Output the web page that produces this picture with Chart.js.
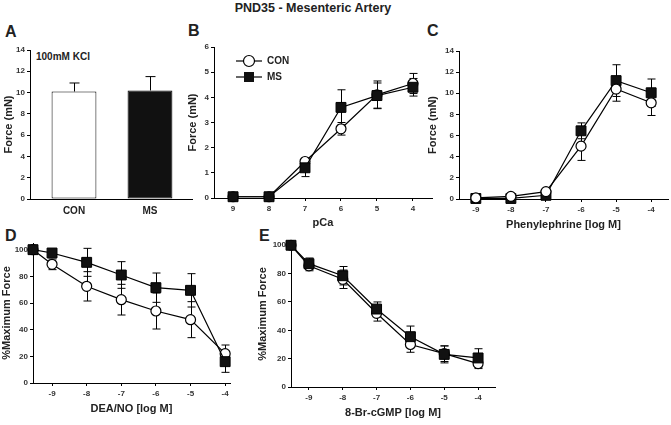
<!DOCTYPE html>
<html>
<head>
<meta charset="utf-8">
<script src="https://cdn.jsdelivr.net/npm/chart.js@4"></script>
<style>
  html, body { margin: 0; padding: 0; background: #fff; overflow: hidden; }
  body { width: 671px; height: 425px; position: relative; font-family: "Liberation Sans", Arial, sans-serif; }
  canvas { position: absolute; }
  .lbl { position: absolute; font-weight: bold; color: #222; line-height: 1; white-space: nowrap; }
  .letter { font-size: 16px; }
</style>
</head>
<body>
<div class="lbl" style="left:213px; top:2px; width:200px; text-align:center; font-size:12.5px">PND35 - Mesenteric Artery</div>
<div class="lbl letter" style="left:5px; top:24px">A</div>
<div class="lbl letter" style="left:188px; top:23px">B</div>
<div class="lbl letter" style="left:427px; top:23px">C</div>
<div class="lbl letter" style="left:5px; top:228px">D</div>
<div class="lbl letter" style="left:259px; top:228px">E</div>
<div class="lbl" style="left:36px; top:52px; font-size:10px">100mM KCl</div>

<canvas id="cA" width="200" height="177" style="left:0px; top:42px"></canvas>
<canvas id="cB" width="256" height="193" style="left:184px; top:39px"></canvas>
<canvas id="cC" width="252" height="191" style="left:424px; top:43px"></canvas>
<canvas id="cD" width="238" height="183" style="left:0px; top:235px"></canvas>
<canvas id="cE" width="249" height="189" style="left:254px; top:233px"></canvas>

<script>
// A - 100mM KCl
const kclGroups = ['CON', 'MS'];
const kclMean = [10.1, 10.2];
const kclErr = [0.8, 1.3];

// B - pCa
const pcaX = [9, 8, 7, 6, 5, 4];
const pcaCon = [0.05, 0.05, 1.45, 2.75, 4.1, 4.55];
const pcaConErr = [0.05, 0.05, 0.1, 0.25, 0.55, 0.4];
const pcaMs = [0.05, 0.05, 1.2, 3.6, 4.07, 4.4];
const pcaMsErr = [0.05, 0.05, 0.35, 0.7, 0.5, 0.35];

// C - phenylephrine
const peX = [-9, -8, -7, -6, -5, -4];
const peCon = [0.1, 0.25, 0.7, 5.0, 10.4, 9.1];
const peConErr = [0.05, 0.1, 0.25, 1.35, 1.15, 1.2];
const peMs = [0.05, 0.05, 0.35, 6.45, 11.2, 10.05];
const peMsErr = [0.05, 0.05, 0.15, 0.75, 1.5, 1.3];

// D - DEA/NO (first point is the 100% baseline)
const deaX = [-9.55, -9, -8, -7, -6, -5, -4];
const deaCon = [100, 89, 72.5, 62.5, 54, 47.5, 22];
const deaConErr = [0, 4, 11, 11.5, 13.5, 13.5, 6.5];
const deaMs = [100, 97.5, 90.5, 81, 71.5, 69.5, 16];
const deaMsErr = [0, 2.5, 10.5, 10, 11, 12.5, 8];

// E - 8-Br-cGMP
const cgX = [-9.53, -9, -8, -7, -6, -5, -4];
const cgCon = [100, 85.5, 76, 52, 30, 23.5, 16.5];
const cgConErr = [0, 3.5, 6.5, 5.5, 5.5, 5.5, 3.5];
const cgMs = [100, 87, 78.5, 55, 35.5, 23, 20.5];
const cgMsErr = [0, 4, 6.5, 5, 7.5, 6, 6.5];

const logTicks = [-9, -8, -7, -6, -5, -4];

Chart.defaults.font.family = '"Liberation Sans", Arial, sans-serif';
Chart.defaults.font.weight = 'bold';
Chart.defaults.color = '#333';
Chart.defaults.animation = false;
Chart.defaults.plugins.legend.display = false;
Chart.defaults.plugins.tooltip.enabled = false;

function pts(xs, ys) {
    return xs.map((x, i) => ({ x: x, y: ys[i] }));
}

function drawErrors(chart) {
    const ctx = chart.ctx;
    const yScale = chart.scales.y;
    ctx.save();
    ctx.strokeStyle = '#000';
    ctx.lineWidth = 1;
    chart.data.datasets.forEach((ds, di) => {
        if (!ds.err) return;
        const meta = chart.getDatasetMeta(di);
        meta.data.forEach((el, i) => {
            const v = ds.data[i].y, e = ds.err[i];
            if (!e) return;
            const x = Math.round(el.x) + 0.5;
            const yHi = yScale.getPixelForValue(v + e);
            const yLo = yScale.getPixelForValue(ds.upOnly ? v : v - e);
            const cap = ds.capWidth || 8;
            ctx.beginPath();
            ctx.moveTo(x, yLo);
            ctx.lineTo(x, yHi);
            ctx.moveTo(x - cap / 2, yHi);
            ctx.lineTo(x + cap / 2, yHi);
            if (!ds.upOnly) {
                ctx.moveTo(x - cap / 2, yLo);
                ctx.lineTo(x + cap / 2, yLo);
            }
            ctx.stroke();
        });
    });
    ctx.restore();
}

const errorBars = {
    id: 'errorBars',
    beforeDatasetsDraw(chart) {
        if (chart.config.type !== 'bar') drawErrors(chart);
    },
    afterDatasetsDraw(chart) {
        if (chart.config.type === 'bar') drawErrors(chart);
    }
};
Chart.register(errorBars);

//legend drawn inside panel B, line through the marker like the original
const legendB = {
    id: 'legendB',
    afterDraw(chart) {
        const ctx = chart.ctx;
        const area = chart.chartArea;
        const rows = [
            { label: 'CON', circle: true, dy: 14 },
            { label: 'MS', circle: false, dy: 30 }
        ];
        ctx.save();
        rows.forEach(r => {
            const y = area.top + r.dy;
            const x0 = area.left + 22, x1 = area.left + 48, xm = area.left + 35;
            ctx.strokeStyle = '#000';
            ctx.lineWidth = 1.2;
            ctx.beginPath();
            ctx.moveTo(x0, y);
            ctx.lineTo(x1, y);
            ctx.stroke();
            if (r.circle) {
                ctx.fillStyle = '#fff';
                ctx.beginPath();
                ctx.arc(xm, y, 5.5, 0, Math.PI * 2);
                ctx.fill();
                ctx.stroke();
            } else {
                ctx.fillStyle = '#111';
                ctx.fillRect(xm - 5, y - 5, 10, 10);
            }
            ctx.fillStyle = '#222';
            ctx.font = 'bold 10px "Liberation Sans", Arial, sans-serif';
            ctx.textBaseline = 'middle';
            ctx.fillText(r.label, area.left + 53, y + 0.5);
        });
        ctx.restore();
    }
};

const gridStyle = { display: true, drawOnChartArea: false, drawTicks: true, tickLength: 3, color: '#000', lineWidth: 1 };
const borderStyle = { display: true, color: '#000', width: 1 };
const tickFont = { size: 8, weight: 'bold' };
const titleFont = { size: 11, weight: 'bold' };

function yAxis(min, max, shown, width, title, titlePad) {
    return {
        type: 'linear', min: min, max: max,
        afterBuildTicks: s => { s.ticks = shown.map(v => ({ value: v })); },
        afterFit: s => { s.width = width; },
        grid: gridStyle,
        border: borderStyle,
        ticks: { font: tickFont, color: '#333', padding: 2 },
        title: { display: true, text: title, font: titleFont, color: '#222', padding: { top: titlePad, bottom: 0 } }
    };
}

function xAxis(min, max, shown, height, title, reverse) {
    return {
        type: 'linear', min: min, max: max, reverse: !!reverse,
        afterBuildTicks: s => { s.ticks = shown.map(v => ({ value: v })); },
        afterFit: s => { s.height = height; },
        grid: gridStyle,
        border: borderStyle,
        ticks: { font: tickFont, color: '#333', padding: 3, maxRotation: 0, autoSkip: false, callback: v => String(v) },
        title: { display: true, text: title, font: titleFont, color: '#222', padding: { top: 0, bottom: 2 } }
    };
}

function conSet(xs, ys, err) {
    return {
        label: 'CON', data: pts(xs, ys), err: err,
        borderColor: '#000', borderWidth: 1.2, tension: 0, clip: false,
        pointStyle: 'circle', pointRadius: 5, pointBackgroundColor: '#fff',
        pointBorderColor: '#000', pointBorderWidth: 1.2, capWidth: 8
    };
}

function msSet(xs, ys, err) {
    return {
        label: 'MS', data: pts(xs, ys), err: err,
        borderColor: '#000', borderWidth: 1.2, tension: 0, clip: false,
        pointStyle: 'rect', pointRadius: 7, pointBackgroundColor: '#111',
        pointBorderColor: '#000', pointBorderWidth: 1, capWidth: 8
    };
}

const pad = { left: 0, top: 8, right: 8, bottom: 0 };

// A
new Chart(document.getElementById('cA'), {
    type: 'bar',
    data: {
        datasets: [{
            data: pts([0, 1], kclMean), err: kclErr, upOnly: true, capWidth: 10,
            backgroundColor: ['#fff', '#111'], borderColor: '#000', borderWidth: 1,
            borderSkipped: false, barPercentage: 0.59, categoryPercentage: 1
        }]
    },
    options: {
        responsive: false,
        layout: { padding: pad },
        scales: {
            x: {
                type: 'linear', min: -0.579, max: 1.553, offset: false,
                afterBuildTicks: s => { s.ticks = [{ value: 0 }, { value: 1 }]; },
                afterFit: s => { s.height = 20; },
                grid: { display: false, drawTicks: false },
                border: borderStyle,
                ticks: { font: { size: 10, weight: 'bold' }, color: '#222', padding: 6, maxRotation: 0, callback: v => kclGroups[v] }
            },
            y: yAxis(0, 14, [0, 2, 4, 6, 8, 10, 12, 14], 30, 'Force (mN)', 2)
        }
    }
});

// B
new Chart(document.getElementById('cB'), {
    type: 'line',
    data: { datasets: [msSet(pcaX, pcaMs, pcaMsErr), conSet(pcaX, pcaCon, pcaConErr)] },
    options: {
        responsive: false,
        layout: { padding: pad },
        scales: {
            x: xAxis(3.47, 9.53, pcaX, 34, 'pCa', true),
            y: yAxis(0, 6, [0, 1, 2, 3, 4, 5, 6], 30, 'Force (mN)', 2)
        }
    },
    plugins: [legendB]
});

// C
new Chart(document.getElementById('cC'), {
    type: 'line',
    data: { datasets: [conSet(peX, peCon, peConErr), msSet(peX, peMs, peMsErr)] },
    options: {
        responsive: false,
        layout: { padding: { left: 0, top: 8, right: 6, bottom: 0 } },
        scales: {
            x: xAxis(-9.48, -3.52, logTicks, 35, 'Phenylephrine [log M]'),
            y: yAxis(0, 14, [0, 2, 4, 6, 8, 10, 12, 14], 35, 'Force (mN)', 2)
        }
    }
});

// D
new Chart(document.getElementById('cD'), {
    type: 'line',
    data: { datasets: [msSet(deaX, deaMs, deaMsErr), conSet(deaX, deaCon, deaConErr)] },
    options: {
        responsive: false,
        layout: { padding: pad },
        scales: {
            x: xAxis(-9.55, -3.86, logTicks, 35, 'DEA/NO [log M]'),
            y: yAxis(0, 105, [0, 20, 40, 60, 80, 100], 33, '%Maximum Force', 0)
        }
    }
});

// E
new Chart(document.getElementById('cE'), {
    type: 'line',
    data: { datasets: [msSet(cgX, cgMs, cgMsErr), conSet(cgX, cgCon, cgConErr)] },
    options: {
        responsive: false,
        layout: { padding: pad },
        scales: {
            x: xAxis(-9.53, -3.5, logTicks, 35, '8-Br-cGMP [log M]'),
            y: yAxis(0, 103, [0, 20, 40, 60, 80, 100], 37, '%Maximum Force', 2)
        }
    }
});
</script>
</body>
</html>
